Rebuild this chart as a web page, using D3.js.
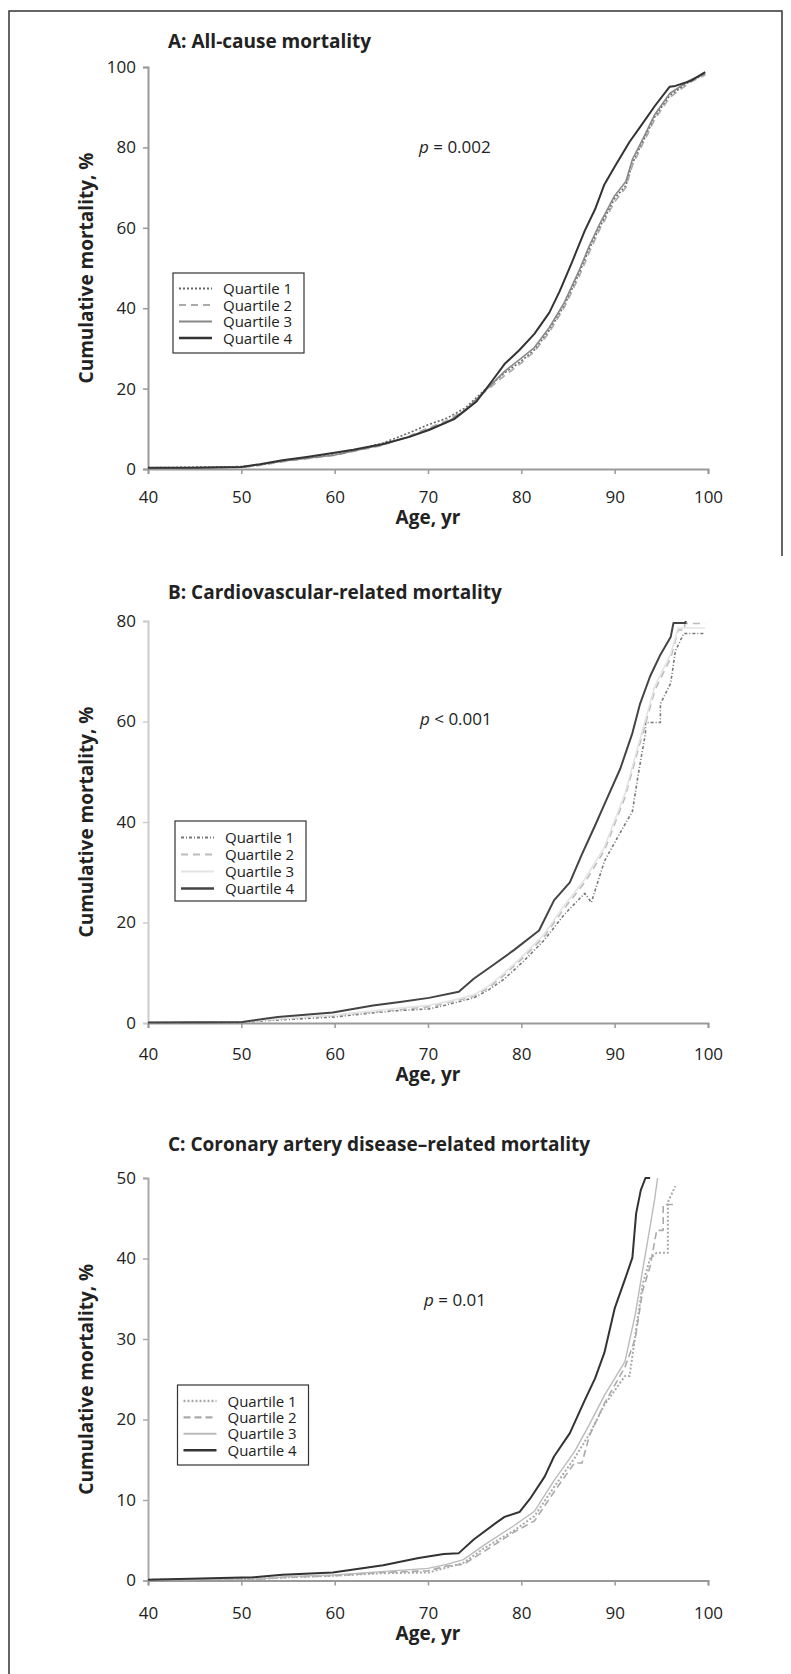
<!DOCTYPE html>
<html><head><meta charset="utf-8">
<script src="https://cdn.jsdelivr.net/npm/d3@7"></script>
<style>
html,body{margin:0;padding:0;background:#fff;}
svg{display:block;}
text{font-family:"Open Sans",sans-serif;fill:#222;}
</style></head>
<body>
<script>
// ---------- DATA ----------
const ageTicks = [40, 50, 60, 70, 80, 90, 100];
const yTicksA = [0, 20, 40, 60, 80, 100];
const yTicksB = [0, 20, 40, 60, 80];
const yTicksC = [0, 10, 20, 30, 40, 50];
const quartileLabels = ["Quartile 1", "Quartile 2", "Quartile 3", "Quartile 4"];
const panelTitles = ["A: All-cause mortality", "B: Cardiovascular-related mortality", "C: Coronary artery disease\u2013related mortality"];
const pValues = [" = 0.002", " < 0.001", " = 0.01"];

// Panel A: [age, cumulative mortality %]
const A_Q1 = [[40,0.3],[50,0.6],[52,1.0],[55,2.2],[60,3.6],[65,6.3],[68,9.0],[70,11.0],[72,12.6],[74,15.2],[76,19.5],[78.2,23.9],[79.8,26.5],[81.4,29.6],[83,34.5],[84.6,40.7],[86.2,48.7],[87.3,54.9],[88.4,60.2],[90,67.3],[91.2,70.5],[91.9,76],[93,81.4],[94.3,87.6],[95.9,92.9],[98.1,96.5],[99.7,98.2]];
const A_Q2 = [[40,0.2],[50,0.4],[52,0.9],[55,2.0],[60,3.4],[65,5.8],[68,8.2],[70,10.2],[72,12.0],[74,14.8],[76,19.0],[78.2,23.2],[79.8,26.0],[81.4,29.2],[83,34.0],[84.6,40.2],[86.2,47.9],[87.3,54.0],[88.4,59.6],[90,66.5],[91.2,70.0],[91.9,75.5],[93,80.8],[94.3,87.0],[95.9,92.4],[98.1,96.2],[99.7,98.0]];
const A_Q3 = [[40,0.2],[50,0.5],[52,1.1],[55,2.1],[60,3.5],[65,6.0],[68,8.0],[70,9.8],[72,11.6],[74,14.6],[76,19.2],[78.2,24.3],[79.8,27.2],[81.4,30.2],[83,35.2],[84.6,41.4],[86.2,49.4],[87.3,55.6],[88.4,61.0],[90,68.0],[91.2,71.5],[91.9,77],[93,82.0],[94.3,88.2],[95.9,93.4],[98.1,96.8],[99.7,98.4]];
const A_Q4 = [[40,0.3],[45,0.3],[50,0.5],[52,1.2],[54.4,2.2],[57,3.0],[59.8,4.0],[62,4.8],[65.2,6.2],[68,8.0],[70.1,9.7],[72.8,12.4],[75.2,16.8],[76.8,21.7],[78.2,26.1],[79.8,29.6],[81.4,33.6],[83,38.9],[84.1,44.2],[85.4,51.3],[86.8,59.3],[87.9,64.6],[88.9,70.8],[90,75.2],[91.6,81.4],[92.7,85.0],[94.3,90.3],[95.9,95.1],[96.5,95.3],[98.1,96.5],[99.7,98.7]];

// Panel B
const B_Q1 = [[40,0.1],[50,0.1],[53,0.5],[56,0.8],[60,1.2],[64,2.0],[67,2.5],[70.1,2.8],[72,3.6],[74.9,5.0],[76.5,6.6],[78.2,8.8],[80.3,12.4],[82.5,16.6],[84.6,21.6],[86.8,25.8],[87.5,24.0],[88.9,32.2],[90.6,37.9],[91.9,42.1],[92.5,49.2],[93.3,57.7],[93.3,59.8],[94.9,59.8],[94.9,63.5],[96.0,67.6],[96.5,74.0],[97.4,77.5],[99.7,77.5]];
const B_Q2 = [[40,0.1],[50,0.2],[53,0.6],[56,1.0],[60,1.5],[64,2.2],[67,2.7],[70,3.2],[72,4.0],[74.9,5.3],[76.5,7.0],[78.2,9.6],[80.3,13.2],[82.5,17.3],[84.6,22.8],[86.8,28.0],[88.9,34.3],[91.1,44.9],[92.7,55.6],[94.3,66.2],[96.0,72.6],[96.8,78.2],[97.5,78.2],[97.5,79.5],[99.7,79.5]];
const B_Q3 = [[40,0.1],[50,0.2],[53,0.7],[56,1.1],[60,1.6],[64,2.4],[67,3.0],[70,3.5],[72,4.2],[74.9,5.6],[76.5,7.4],[78.2,10.0],[80.3,13.6],[82.5,17.8],[84.6,23.4],[86.8,28.6],[88.9,35.0],[91.1,45.6],[92.7,56.4],[94.3,67.0],[96.0,73.4],[96.8,78.6],[99.7,78.6]];
const B_Q4 = [[40,0.1],[50.1,0.2],[53.9,1.2],[59.8,2.1],[64.1,3.5],[67,4.2],[70.1,5.0],[73.3,6.2],[74.9,8.8],[77.1,11.7],[79.2,14.5],[81.9,18.4],[83.5,24.4],[85.2,28.0],[86.5,33.6],[87.9,39.3],[88.9,43.5],[90.6,50.6],[91.9,57.7],[92.7,63.4],[93.8,69.0],[94.9,73.3],[96.0,76.8],[96.3,79.6],[97.6,79.6],[97.6,80.0]];

// Panel C
const C_Q1 = [[40,0.1],[52,0.2],[55,0.4],[60,0.6],[65,0.9],[70.1,1.0],[72,1.6],[73.8,2.2],[76.0,4.0],[79.2,6.2],[81.4,8.0],[83.5,11.6],[85.7,15.2],[87.3,18.2],[88.9,21.8],[91.1,25.4],[91.6,25.4],[92.2,30.4],[93.0,36.8],[93.8,40.0],[94.5,40.7],[95.7,40.7],[95.7,47.0],[96.5,49.0]];
const C_Q2 = [[40,0.1],[52,0.2],[55,0.4],[60,0.6],[65,1.0],[70,1.2],[72,1.8],[73.8,2.0],[76.0,3.6],[79.2,6.0],[81.4,7.4],[83.5,11.0],[85.7,14.6],[86.5,14.6],[87.3,18.0],[88.9,22.0],[91.1,26.5],[92.2,30.0],[93.0,36.0],[93.8,39.0],[94.5,43.5],[95.2,43.5],[95.2,46.7],[96.5,46.7]];
const C_Q3 = [[40,0.1],[52,0.2],[55,0.5],[60,0.7],[65,1.1],[70,1.5],[72,2.0],[73.8,2.6],[76.0,4.4],[79.2,6.8],[81.4,8.6],[83.5,12.4],[85.7,16.0],[87.3,19.4],[88.9,23.0],[91.1,27.2],[92.2,33.0],[93.0,38.6],[93.8,44.0],[94.3,47.5],[94.6,50.0]];
const C_Q4 = [[40,0.1],[51.2,0.4],[54.4,0.7],[59.8,1.0],[65.2,1.9],[69.0,2.8],[71.7,3.3],[73.3,3.4],[74.9,5.1],[77.1,7.0],[78.2,7.9],[79.8,8.5],[80.9,10.1],[82.5,12.9],[83.5,15.4],[85.2,18.3],[86.8,22.4],[87.9,25.1],[88.9,28.3],[90.0,33.8],[91.1,37.4],[91.9,40.1],[92.3,45.6],[92.8,48.5],[93.3,50.0],[93.8,50.0]];

// ---------- LAYOUT ----------
const W = 791, H = 1674;
const svg = d3.select("body").append("svg").attr("width", W).attr("height", H);

// frame
svg.append("path")
  .attr("d", "M9,1674 L9,11 L782,11 L782,556")
  .attr("fill", "none").attr("stroke", "#333").attr("stroke-width", 1.5);

const x0 = 148, x1 = 708;

const panels = [
  { title: panelTitles[0], p: pValues[0], yTicks: yTicksA, yMax: 100, top: 67, bottom: 469, titleY: 48, pY: 153, pX: 419, ageOff: 55, labPad: 17,
    series: [A_Q1, A_Q2, A_Q3, A_Q4], yAxisColor: "#999",
    styles: [
      {c: "#666", w: 1.6, d: "2,2"},
      {c: "#aaa", w: 1.6, d: "7,5"},
      {c: "#888", w: 1.6, d: null},
      {c: "#333", w: 2, d: null}],
    legend: {x: 173, y: 273, w: 131, h: 80, row0: 288.5, dy: 16.5} },
  { title: panelTitles[1], p: pValues[1], yTicks: yTicksB, yMax: 80, top: 621, bottom: 1023, titleY: 599, pY: 725, pX: 420, ageOff: 58, labPad: 20,
    series: [B_Q1, B_Q2, B_Q3, B_Q4], yAxisColor: "#ccc",
    styles: [
      {c: "#777", w: 1.6, d: "3,2,1,2"},
      {c: "#bbb", w: 1.6, d: "7,5"},
      {c: "#e4e4e4", w: 1.6, d: null},
      {c: "#444", w: 2, d: null}],
    legend: {x: 175, y: 821, w: 131, h: 80, row0: 837.5, dy: 17} },
  { title: panelTitles[2], p: pValues[2], yTicks: yTicksC, yMax: 50, top: 1178, bottom: 1580.5, titleY: 1151, pY: 1306, pX: 424, ageOff: 59, labPad: 21,
    series: [C_Q1, C_Q2, C_Q3, C_Q4], yAxisColor: "#aaa",
    styles: [
      {c: "#aaa", w: 2, d: "2,2"},
      {c: "#aaa", w: 1.6, d: "7,4"},
      {c: "#bbb", w: 1.4, d: null},
      {c: "#333", w: 2, d: null}],
    legend: {x: 177.5, y: 1385, w: 131, h: 80, row0: 1401, dy: 16.4} }
];

panels.forEach(P => {
  const g = svg.append("g");
  const x = d3.scaleLinear().domain([40, 100]).range([x0, x1]);
  const y = d3.scaleLinear().domain([0, P.yMax]).range([P.bottom, P.top]);

  // title
  g.append("text").attr("x", 168).attr("y", P.titleY)
    .style("font-size", "19px").style("font-weight", "700").text(P.title);

  // y axis
  const ya = g.append("g").attr("transform", `translate(${x0},0)`)
    .call(d3.axisLeft(y).tickValues(P.yTicks).tickSize(5).tickPadding(7).tickFormat(d3.format("d")));
  ya.select(".domain").attr("stroke", P.yAxisColor).attr("stroke-width", 2);
  ya.selectAll(".tick line").attr("stroke", P.yAxisColor).attr("stroke-width", 1.5);
  ya.selectAll(".tick text").style("font-size", "17px").style("font-family", "Open Sans").attr("fill", "#222");

  // x axis
  const xa = g.append("g").attr("transform", `translate(0,${P.bottom})`)
    .call(d3.axisBottom(x).tickValues(ageTicks).tickSize(5).tickPadding(P.labPad).tickFormat(d3.format("d")));
  xa.select(".domain").attr("stroke", "#999").attr("stroke-width", 2);
  xa.selectAll(".tick line").attr("stroke", "#999").attr("stroke-width", 1.5);
  xa.selectAll(".tick text").style("font-size", "17px").style("font-family", "Open Sans").attr("fill", "#222");

  // axis titles
  g.append("text").attr("x", (x0 + x1) / 2).attr("y", P.bottom + P.ageOff)
    .attr("text-anchor", "middle").style("font-size", "19px").style("font-weight", "700").text("Age, yr");
  g.append("text").attr("transform", `translate(93,${(P.top + P.bottom) / 2}) rotate(-90)`)
    .attr("text-anchor", "middle").style("font-size", "19px").style("font-weight", "700").text("Cumulative mortality, %");

  // p value
  const pt = g.append("text").attr("x", P.pX).attr("y", P.pY).style("font-size", "17px");
  pt.append("tspan").style("font-style", "italic").text("p");
  pt.append("tspan").text(P.p);

  // curves
  const line = d3.line().x(d => x(d[0])).y(d => y(d[1])).curve(d3.curveLinear);
  P.series.forEach((s, i) => {
    const st = P.styles[i];
    g.append("path").datum(s).attr("d", line)
      .attr("fill", "none").attr("stroke", st.c).attr("stroke-width", st.w)
      .attr("stroke-dasharray", st.d).attr("stroke-linejoin", "round");
  });

  // legend
  const L = P.legend;
  const lg = g.append("g");
  lg.append("rect").attr("x", L.x).attr("y", L.y).attr("width", L.w).attr("height", L.h)
    .attr("fill", "#fff").attr("stroke", "#333").attr("stroke-width", 1.2);
  quartileLabels.forEach((lab, i) => {
    const yy = L.row0 + i * L.dy;
    const st = P.styles[i];
    lg.append("line").attr("x1", L.x + 6).attr("x2", L.x + 39).attr("y1", yy).attr("y2", yy)
      .attr("stroke", st.c).attr("stroke-width", st.w + 0.6).attr("stroke-dasharray", st.d);
    lg.append("text").attr("x", L.x + 50).attr("y", yy + 5.5).style("font-size", "15px").text(lab);
  });
});
</script>
</body></html>
